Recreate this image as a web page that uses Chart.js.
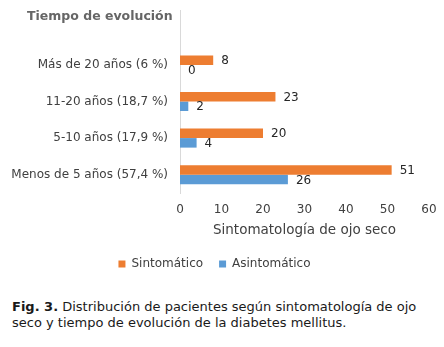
<!DOCTYPE html>
<html>
<head>
<meta charset="utf-8">
<style>
  body { margin: 0; background: #fff; }
  #wrap { position: relative; width: 444px; height: 347px; }
  #caption {
    position: absolute; left: 12px; top: 299px; width: 415px;
    font: 13px "DejaVu Sans", Verdana, sans-serif; color: #1a1a1a; line-height: 16px;
  }
</style>
</head>
<body>
<div id="wrap">
  <canvas id="chart" width="444" height="280"></canvas>
  <div id="caption"><b>Fig. 3.</b> Distribución de pacientes según sintomatología de ojo seco y tiempo de evolución de la diabetes mellitus.</div>
</div>

<script src="https://cdn.jsdelivr.net/npm/chart.js@4.4.1/dist/chart.umd.min.js"></script>
<script>
// first slot is the empty header row of the original table
const categories = ['', 'Más de 20 años (6 %)', '11-20 años (18,7 %)', '5-10 años (17,9 %)', 'Menos de 5 años (57,4 %)'];
const sintomatico = [null, 8, 23, 20, 51];
const asintomatico = [null, 0, 2, 4, 26];
const xTicks = [0, 10, 20, 30, 40, 50, 60];

const FONT = '"DejaVu Sans", Verdana, sans-serif';

// value labels next to each bar
const valueLabels = {
  id: 'valueLabels',
  afterDatasetsDraw(chart) {
    const ctx = chart.ctx;
    ctx.save();
    ctx.font = '12px ' + FONT;
    ctx.fillStyle = '#262626';
    ctx.textBaseline = 'middle';
    chart.data.datasets.forEach((ds, i) => {
      chart.getDatasetMeta(i).data.forEach((bar, j) => {
        if (ds.data[j] == null) return;
        ctx.fillText(String(ds.data[j]), bar.x + 8, bar.y + 1);
      });
    });
    ctx.restore();
  }
};

// category axis heading, top left
const heading = {
  id: 'heading',
  afterDraw(chart) {
    const ctx = chart.ctx;
    ctx.save();
    ctx.font = 'bold 12.5px ' + FONT;
    ctx.fillStyle = '#666666';
    ctx.textBaseline = 'middle';
    ctx.fillText('Tiempo de evolución', 27, 17);
    ctx.restore();
  }
};

new Chart(document.getElementById('chart'), {
  type: 'bar',
  data: {
    labels: categories,
    datasets: [
      { label: 'Sintomático', data: sintomatico, backgroundColor: '#ED7D31', categoryPercentage: 0.52, barPercentage: 1.0 },
      { label: 'Asintomático', data: asintomatico, backgroundColor: '#5B9BD5', categoryPercentage: 0.52, barPercentage: 1.0 }
    ]
  },
  options: {
    indexAxis: 'y',
    responsive: false,
    animation: false,
    layout: { padding: { top: 10, right: 15, left: 0, bottom: 0 } },
    scales: {
      x: {
        min: 0, max: 60,
        afterBuildTicks(scale) { scale.ticks = xTicks.map(v => ({ value: v })); },
        afterFit(scale) {
          scale.height = 49;
          scale.paddingRight = 0;
        },
        grid: { display: false, drawTicks: false },
        border: { display: false },
        ticks: { color: '#404040', font: { size: 12, family: FONT }, padding: 10 },
        title: { display: true, text: 'Sintomatología de ojo seco', color: '#404040', font: { size: 13.5, family: FONT }, padding: { top: 4, bottom: 3 } }
      },
      y: {
        grid: { display: false, drawTicks: false },
        border: { display: true, color: '#d9d9d9' },
        ticks: { color: '#404040', font: { size: 12, family: FONT }, padding: 12 },
        afterFit(scale) {
          scale.width = 180;
          scale.paddingTop = 0;
          scale.paddingBottom = 0;
        }
      }
    },
    plugins: {
      legend: {
        position: 'bottom',
        labels: { boxWidth: 7, boxHeight: 7, color: '#404040', font: { size: 12, family: FONT }, padding: 16 }
      },
      tooltip: { enabled: false }
    }
  },
  plugins: [valueLabels, heading]
});
</script>
</body>
</html>
